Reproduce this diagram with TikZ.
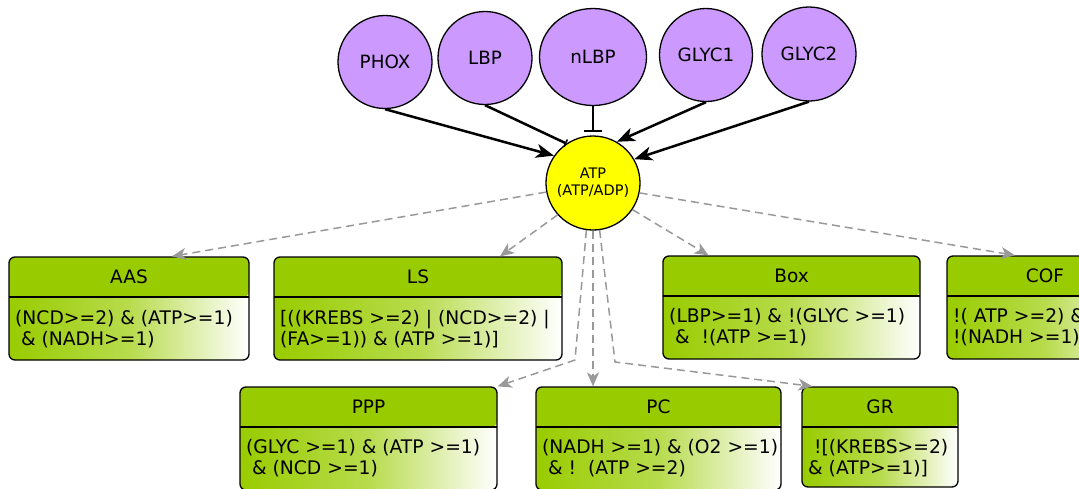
\documentclass[tikz,border=0pt]{standalone}
\usepackage{fontspec}
\setmainfont{DejaVu Sans}
\usetikzlibrary{arrows.meta,shapes.geometric}
\definecolor{hdrgreen}{RGB}{153,204,0}
\definecolor{nodepurple}{RGB}{204,153,255}
\definecolor{atpyellow}{RGB}{255,255,0}
\definecolor{edgegray}{RGB}{153,153,153}
\pgfdeclarehorizontalshading{boxfade}{100bp}{color(0bp)=(hdrgreen); color(25bp)=(hdrgreen); color(50bp)=(hdrgreen!70!white); color(75bp)=(white); color(100bp)=(white)}
\tikzset{
  src/.style={ellipse, draw, line width=1.3pt, fill=nodepurple, inner sep=0pt,
    font=\fontsize{18.3}{21}\selectfont},
  atpnode/.style={circle, draw, line width=1.3pt, fill=atpyellow, minimum size=94pt,
    inner sep=0pt, align=center, font=\fontsize{14.5}{17}\selectfont},
  act/.style={line width=2.5pt, -{Stealth[length=18pt,width=14pt,inset=5pt]}},
  inh/.style={line width=2.5pt, -{Bar[width=18pt]}, shorten >=3pt},
  tick/.style={line width=2.5pt, -{Bar[width=8pt,line width=1.5pt]}},
  flow/.style={draw=edgegray, line width=1.5pt, dash pattern=on 8pt off 5pt,
    -{Stealth[length=14pt,width=12pt,inset=4pt]}},
  statebox/.style={draw, line width=1.3pt, rounded corners=6pt, inner sep=0pt,
    path picture={
      \shade[shading=boxfade, shading angle=0]
        (path picture bounding box.south west) rectangle (path picture bounding box.north east);
      \fill[hdrgreen] (path picture bounding box.north west) rectangle
        ([yshift=-40pt]path picture bounding box.north east);
      \draw[line width=1.3pt] ([yshift=-40pt]path picture bounding box.north west) --
        ([yshift=-40pt]path picture bounding box.north east);
    }},
  boxtitle/.style={inner sep=0pt, font=\fontsize{18.5}{21}\selectfont},
  boxtext/.style={anchor=west, inner sep=0pt, align=left, font=\fontsize{18.7}{21.5}\selectfont},
}
\begin{document}
\begin{tikzpicture}[x=1pt,y=-1pt]
\useasboundingbox (0,0) rectangle (1079,488);
\clip (0,0) rectangle (1079,488);

% source nodes
\node[src, minimum width=94pt, minimum height=93pt] (phox) at (385,62) {PHOX};
\node[src, minimum width=94pt, minimum height=93pt] (lbp) at (485,58) {LBP};
\node[src, minimum width=107pt, minimum height=97pt] (nlbp) at (593,57) {nLBP};
\node[src, minimum width=93pt, minimum height=93pt] (glyc1) at (706,55) {GLYC1};
\node[src, minimum width=94pt, minimum height=94pt] (glyc2) at (809,54) {GLYC2};

\node[atpnode] (atp) at (593,183) {ATP\\(ATP/ADP)};

% state boxes
\node[statebox, minimum width=240pt, minimum height=103pt] (aas) at (129,308.5) {};
\node[statebox, minimum width=288pt, minimum height=103pt] (ls) at (418,308.5) {};
\node[statebox, minimum width=257pt, minimum height=103pt] (boxn) at (791.5,307.5) {};
\node[statebox, minimum width=196pt, minimum height=103pt] (cof) at (1045,307.5) {};
\node[statebox, minimum width=257pt, minimum height=103pt] (ppp) at (368.5,438.5) {};
\node[statebox, minimum width=245pt, minimum height=103pt] (pc) at (658.5,438.5) {};
\node[statebox, minimum width=156pt, minimum height=100pt] (gr) at (880,437) {};

% titles
\node[boxtitle] (aast) at (129,277) {AAS};
\node[boxtitle] (lst) at (418,277) {LS};
\node[boxtitle] (boxt) at (791.5,276) {Box};
\node[boxtitle] (coft) at (1045,276) {COF};
\node[boxtitle] (pppt) at (368.5,407) {PPP};
\node[boxtitle] (pct) at (658.5,407) {PC};
\node[boxtitle] (grt) at (880,407) {GR};

% rule texts
\node[boxtext] (aasx) at (15,329) {(NCD>=2) \& (ATP>=1)\\\ \& (NADH>=1)};
\node[boxtext] (lsx) at (280,329) {[((KREBS >=2) | (NCD>=2) |\\(FA>=1)) \& (ATP >=1)]};
\node[boxtext] (boxx) at (669,327) {(LBP>=1) \& !(GLYC >=1)\\\ \&\ \ !(ATP >=1)};
\node[boxtext] (cofx) at (953,327) {!( ATP >=2) \&\\!(NADH >=1)};
\node[boxtext] (pppx) at (246,458) {(GLYC >=1) \& (ATP >=1)\\\ \& (NCD >=1)};
\node[boxtext] (pcx) at (542,458) {(NADH >=1) \& (O2 >=1)\\\ \& !\ \ (ATP >=2)};
\node[boxtext] (grx) at (808,458) {\ ![(KREBS>=2)\\\& (ATP>=1)]};

% bend points
\coordinate (b1) at (575,360);
\coordinate (b2) at (615,362);

% regulatory edges
\draw[act] (phox.south) -- (atp.145);
\draw[tick] (lbp.south) -- (atp.124);
\draw[inh] (nlbp.south) -- (atp.90);
\draw[act] (glyc1.south) -- (atp.60);
\draw[act] (glyc2.south) -- (atp.30);

% transitions
\draw[flow] (atp.191) -- ([xshift=43pt]aas.north);
\draw[flow] (atp.222) -- ([xshift=82pt]ls.north);
\draw[flow] (atp.-34) -- ([xshift=-83pt]boxn.north);
\draw[flow] (atp.-12) -- ([xshift=-30pt]cof.north);
\draw[flow] (atp.262) -- (b1) -- (ppp.north east);
\draw[flow] (atp.270) -- (atp.270 |- pc.north);
\draw[flow] (atp.278) -- (b2) -- ([xshift=11pt]gr.north west);
\end{tikzpicture}
\end{document}
